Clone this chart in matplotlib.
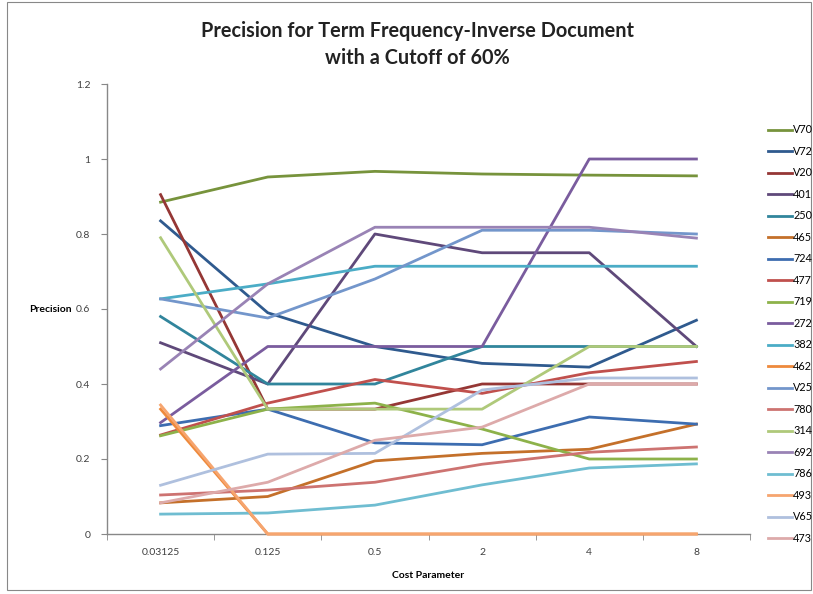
import numpy as np
import matplotlib
matplotlib.use("Agg")
import matplotlib.pyplot as plt
from matplotlib.patches import Rectangle

plt.rcParams['font.family'] = ['Lato', 'DejaVu Sans']

cost = ['0.03125', '0.125', '0.5', '2', '4', '8']

names = ['V70', 'V72', 'V20', '401', '250', '465', '724', '477', '719', '272',
         '382', '462', 'V25', '780', '314', '692', '786', '493', 'V65', '473']

precision = [
    [0.885, 0.952, 0.967, 0.960, 0.957, 0.955],   # V70
    [0.835, 0.590, 0.500, 0.455, 0.445, 0.570],   # V72
    [0.905, 0.333, 0.333, 0.400, 0.400, 0.400],   # V20
    [0.510, 0.400, 0.800, 0.750, 0.750, 0.500],   # 401
    [0.580, 0.400, 0.400, 0.500, 0.500, 0.500],   # 250
    [0.083, 0.100, 0.195, 0.215, 0.226, 0.293],   # 465
    [0.289, 0.333, 0.243, 0.238, 0.312, 0.293],   # 724
    [0.264, 0.349, 0.412, 0.375, 0.430, 0.460],   # 477
    [0.262, 0.333, 0.349, 0.280, 0.200, 0.200],   # 719
    [0.297, 0.500, 0.500, 0.500, 1.000, 1.000],   # 272
    [0.627, 0.667, 0.714, 0.714, 0.714, 0.714],   # 382
    [0.333, 0.000, 0.000, 0.000, 0.000, 0.000],   # 462
    [0.627, 0.576, 0.680, 0.810, 0.810, 0.800],   # V25
    [0.104, 0.117, 0.138, 0.186, 0.218, 0.232],   # 780
    [0.790, 0.333, 0.333, 0.333, 0.500, 0.500],   # 314
    [0.440, 0.667, 0.818, 0.818, 0.818, 0.789],   # 692
    [0.053, 0.056, 0.077, 0.131, 0.176, 0.187],   # 786
    [0.344, 0.000, 0.000, 0.000, 0.000, 0.000],   # 493
    [0.130, 0.213, 0.215, 0.384, 0.416, 0.416],   # V65
    [0.083, 0.138, 0.250, 0.285, 0.400, 0.400],   # 473
]

colors = ['#77933C', '#2F5A8E', '#953735', '#5F497A', '#31859C', '#C4702A',
          '#3D6DB0', '#C0504D', '#8DB24A', '#7A5C9E', '#4BACC6', '#EE8A3C',
          '#7396CB', '#CD7371', '#AFC97A', '#9983B5', '#6FBDD1', '#F6A56F',
          '#AFC0DE', '#DDAAAA']

fig = plt.figure(figsize=(8.13, 5.94), dpi=100)
ax = fig.add_axes([107/813, 1-534/594, 643/813, 450/594])

x = np.arange(len(cost))
lines = []
for name, vals, c in zip(names, precision, colors):
    ln, = ax.plot(x, vals, color=c, lw=2.0, label=name, clip_on=False)
    lines.append(ln)

ax.set_xlim(-0.5, len(cost) - 0.5)
ax.set_ylim(0, 1.2)
ax.set_yticks(np.arange(0, 1.21, 0.2))
ax.set_yticklabels(['0', '0.2', '0.4', '0.6', '0.8', '1', '1.2'])
ax.set_xticks(x)
ax.set_xticklabels(cost)
ax.set_xticks(np.arange(-0.5, len(cost), 1), minor=True)
ax.tick_params(axis='x', which='major', length=0, pad=10, labelsize=7.5, colors='#404040')
ax.tick_params(axis='x', which='minor', length=4, color='#888888', direction='out')
ax.tick_params(axis='y', length=4, color='#888888', labelsize=7.5, labelcolor='#404040', pad=8)

for s in ['top', 'right']:
    ax.spines[s].set_visible(False)
for s in ['left', 'bottom']:
    ax.spines[s].set_color('#888888')
    ax.spines[s].set_linewidth(1)
    ax.spines[s].set_zorder(0)

fig.text(0.513, 0.925, 'Precision for Term Frequency-Inverse Document\nwith a Cutoff of 60%',
         ha='center', va='center', fontsize=14.3, fontweight='bold', linespacing=1.45, color='#222222')
fig.text(50/813, 1-309/594, 'Precision', ha='center', va='center', fontsize=7.5, fontweight='bold')
fig.text(428/813, 1-576/594, 'Cost Parameter', ha='center', va='center', fontsize=7.5, fontweight='bold')

leg = fig.legend(handles=lines, loc='upper left', bbox_to_anchor=(764/813, 1-120/594),
                 frameon=False, fontsize=7.8, handlelength=2.2, handletextpad=0.1,
                 labelspacing=0.97, borderaxespad=0)

fig.add_artist(Rectangle((0.008, 0.006), 0.99, 0.99, transform=fig.transFigure,
                         fill=False, edgecolor='#888888', lw=0.8))

fig.savefig('out.png', dpi=100)
